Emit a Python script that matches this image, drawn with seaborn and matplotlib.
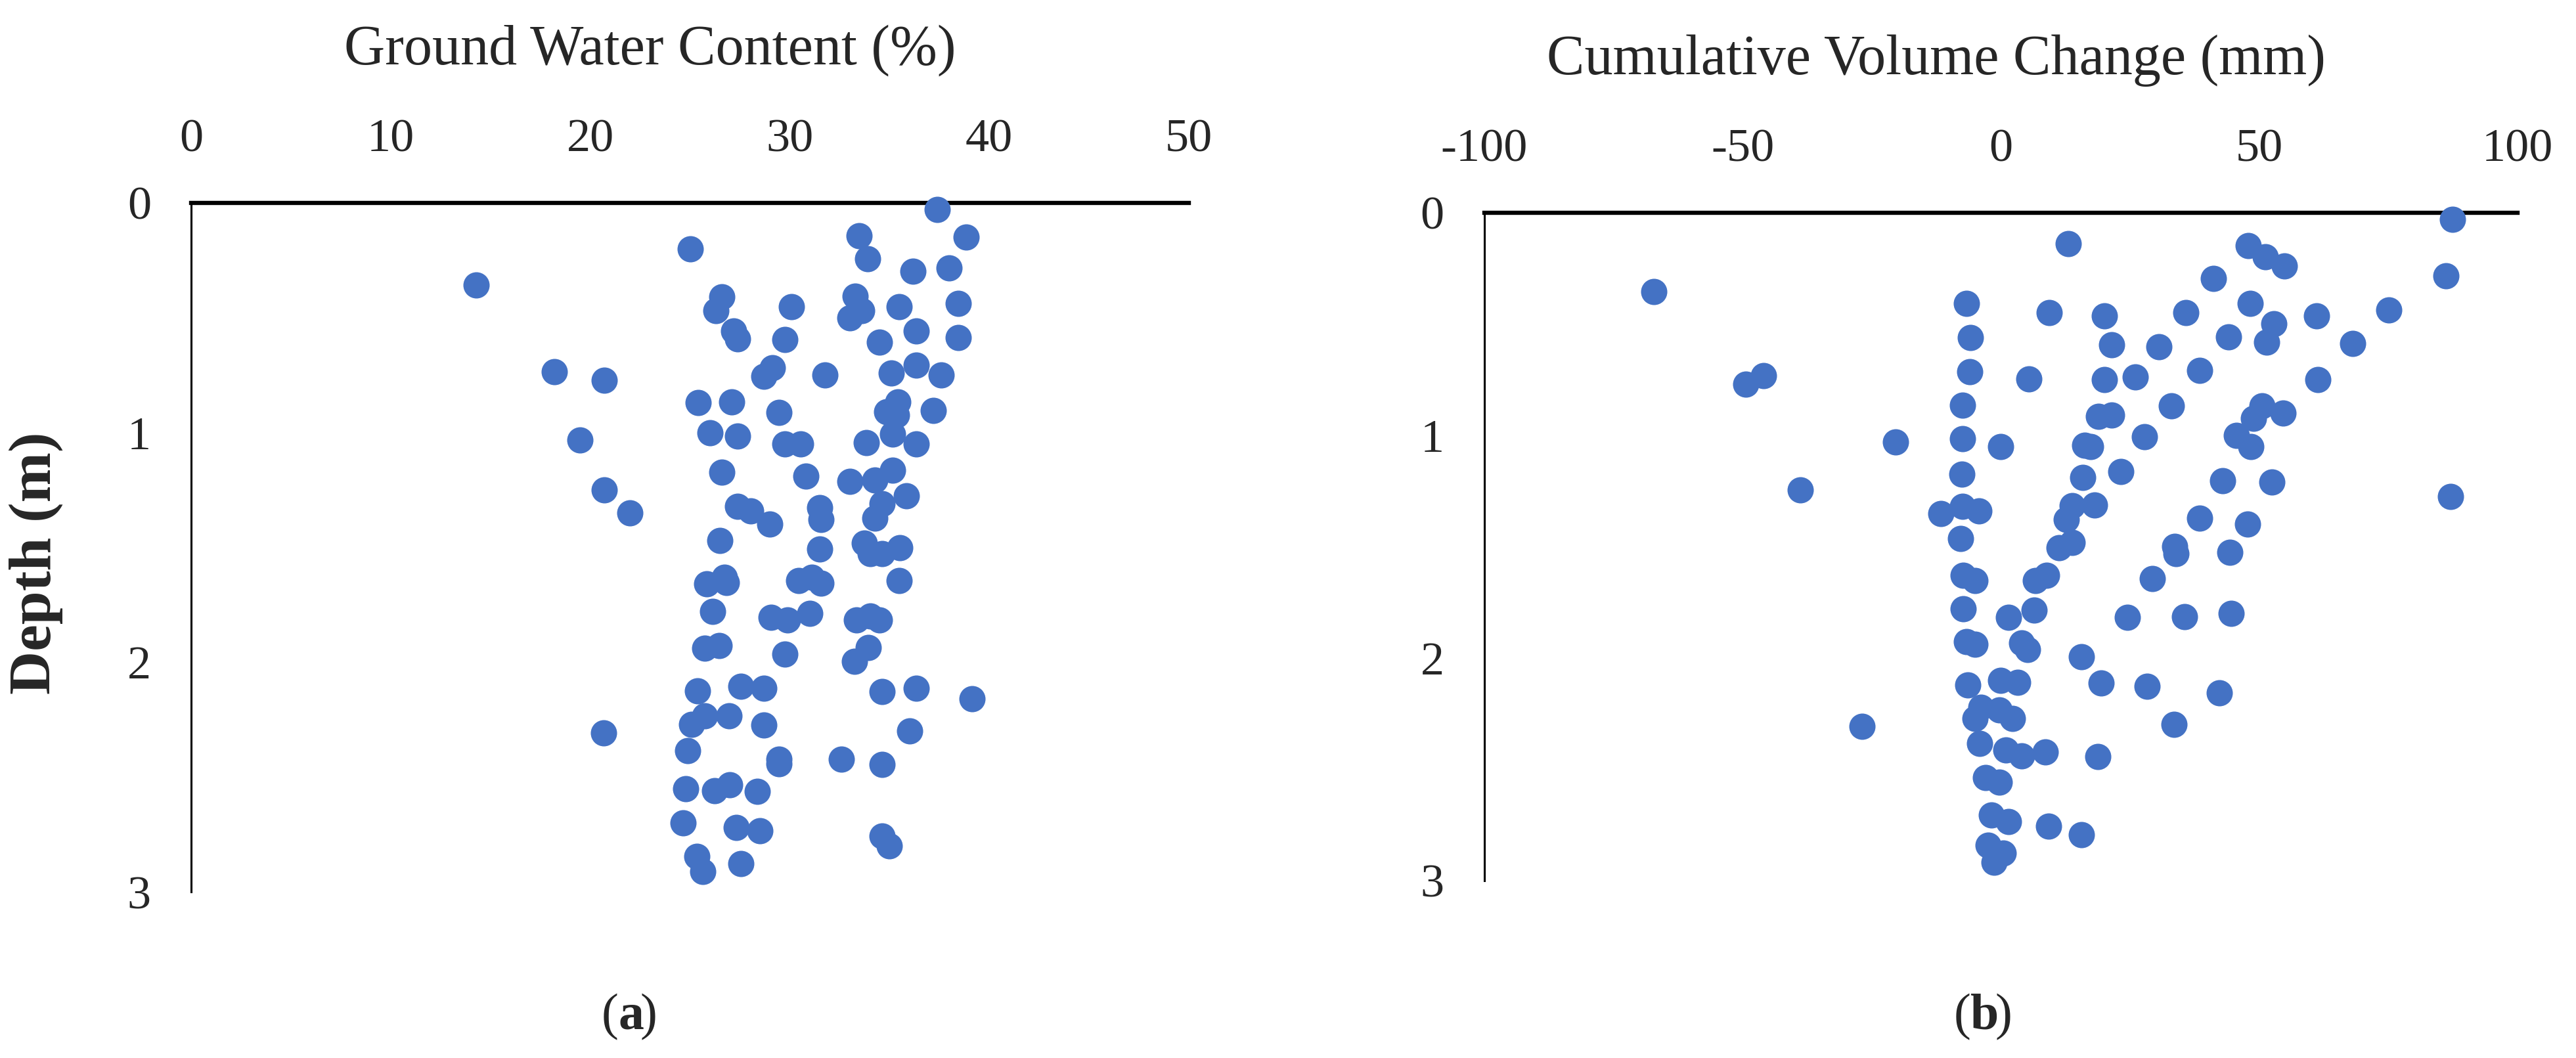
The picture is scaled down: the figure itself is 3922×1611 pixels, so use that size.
import numpy as np
import pandas as pd
import matplotlib
matplotlib.use("Agg")
import matplotlib.pyplot as plt
import seaborn as sns

# (a) ground water content (%) vs depth (m)
water_content = [
    25.0, 14.3, 26.6, 26.3, 27.2, 27.4, 18.2, 20.7, 25.4, 27.1, 26.0, 27.4, 19.5, 26.6, 27.4, 20.7, 22.0, 26.5,
    37.4, 38.85, 33.46, 33.92, 36.16, 38.0, 30.1, 33.29, 33.6, 33.02, 35.5, 38.43, 29.77, 34.48, 36.35, 38.43,
    29.14, 28.71, 31.78, 35.1, 36.35, 37.6, 29.45, 35.41, 34.85, 35.34, 37.18, 29.77, 30.54, 33.85, 35.14, 36.35,
    30.82, 33.0, 34.27, 35.15, 28.05, 29.01, 31.51, 31.58, 34.63, 34.28, 35.86,
    31.51, 33.75, 34.03, 34.63, 35.51, 30.46, 31.12, 31.58, 35.5, 29.07, 29.89, 31.01, 33.36, 34.03, 34.49,
    29.77, 33.93, 33.23, 27.55, 28.71, 34.64, 36.35, 39.15, 28.71, 36.02, 29.45, 29.45, 32.6, 34.64, 28.38,
    27.33, 28.49, 34.63, 35.0, 27.55,
    25.85, 26.73, 26.84, 26.12, 25.74, 26.48, 25.39, 25.74, 25.09, 26.97, 24.9, 20.68, 24.78, 26.24, 27.0,
    24.67, 25.36, 25.63,
]
depth_a = [
    0.20, 0.358, 0.408, 0.469, 0.557, 0.591, 0.734, 0.772, 0.869, 0.866, 1.0, 1.015, 1.032, 1.172, 1.321, 1.25, 1.35, 1.47,
    0.03, 0.149, 0.142, 0.244, 0.297, 0.282, 0.451, 0.407, 0.469, 0.501, 0.451, 0.438, 0.594, 0.606, 0.557, 0.586,
    0.717, 0.754, 0.749, 0.74, 0.705, 0.749, 0.913, 0.867, 0.908, 0.923, 0.904, 1.05, 1.05, 1.044, 1.008, 1.05,
    1.19, 1.212, 1.206, 1.165, 1.342, 1.398, 1.326, 1.378, 1.311, 1.372, 1.275,
    1.507, 1.482, 1.528, 1.528, 1.502, 1.645, 1.63, 1.655, 1.645, 1.805, 1.817, 1.788, 1.817, 1.798, 1.817,
    1.966, 1.936, 1.997, 2.105, 2.113, 2.128, 2.113, 2.16, 2.274, 2.299, 2.421, 2.443, 2.423, 2.446, 2.561,
    2.72, 2.733, 2.758, 2.799, 2.878,
    1.66, 1.63, 1.652, 1.78, 1.939, 1.928, 2.125, 2.232, 2.271, 2.234, 2.385, 2.309, 2.552, 2.559, 2.534,
    2.7, 2.845, 2.911,
]

# (b) cumulative volume change (mm) vs depth (m)
volume_change = [
    -67.14, -45.98, -49.35, -6.66, -5.88, -6.04, -7.44, -7.44, -7.6, -20.41, -0.07, 5.47, 9.36, -38.82, -11.59,
    -7.44, -4.22, -7.8,
    87.38, 13.05, 47.93, 51.24, 54.87, 41.15, 86.11, 19.99, 35.81, 48.2, 52.78, 61.04, 75.09, 21.43, 30.57,
    44.07, 51.4, 68.09, 20.05, 26.0, 38.45, 61.32, 33.0, 18.84, 21.48, 50.52, 48.92, 54.6, 16.25, 17.35, 27.76,
    45.6, 48.37, 15.81, 23.19, 42.92, 52.45, 87.05, 13.77, 18.07, 12.67, 38.45, 47.71,
    11.29, 13.77, 33.6, 33.88, 44.35, 8.81, 29.31, 24.51, 35.53, 44.57, 15.59, 19.39, 28.31, 42.31, 33.55,
    8.54, 18.78, 9.25, 15.59,
    -7.34, -5.0, 6.67, -7.34, 1.48, 6.41, -6.71, -5.0, 4.07, 5.11, -26.89, -6.4, -0.08, 3.3, -3.81, -0.33,
    -5.0, 2.26, -4.07, 0.96, 3.97, -2.93, -0.33, -1.89, 1.48, -2.41, 0.45, -1.37,
]
depth_b = [
    0.355, 0.733, 0.771, 0.408, 0.56, 0.715, 0.865, 1.014, 1.173, 1.03, 1.05, 0.746, 0.448, 1.246, 1.35,
    1.32, 1.338, 1.464,
    0.03, 0.139, 0.149, 0.197, 0.24, 0.296, 0.282, 0.464, 0.448, 0.408, 0.499, 0.464, 0.436, 0.594, 0.603,
    0.558, 0.58, 0.586, 0.75, 0.739, 0.707, 0.748, 0.866, 0.914, 0.908, 0.868, 0.924, 0.901, 1.043, 1.05, 1.005,
    0.999, 1.05, 1.188, 1.162, 1.203, 1.209, 1.273, 1.317, 1.312, 1.378, 1.371, 1.398,
    1.505, 1.48, 1.5, 1.53, 1.525, 1.627, 1.642, 1.817, 1.815, 1.8, 1.994, 2.112, 2.127, 2.155, 2.298,
    2.422, 2.442, 2.755, 2.795,
    1.627, 1.652, 1.652, 1.779, 1.817, 1.785, 1.927, 1.937, 1.932, 1.962, 2.306, 2.12, 2.1, 2.11, 2.222, 2.232,
    2.272, 2.272, 2.384, 2.414, 2.44, 2.536, 2.557, 2.704, 2.735, 2.841, 2.877, 2.917,
]

xticks_a = [0, 10, 20, 30, 40, 50]
xticks_b = [-100, -50, 0, 50, 100]
yticks = [0, 1, 2, 3]

df_a = pd.DataFrame({"water": water_content, "depth": depth_a})
df_b = pd.DataFrame({"volume": volume_change, "depth": depth_b})

sns.set_theme(style="white")
plt.rcParams["font.family"] = ["Liberation Serif", "DejaVu Serif"]
plt.rcParams["axes.unicode_minus"] = False  # plain hyphen like the original

DOT = "#4472C4"
fig = plt.figure(figsize=(39.22, 16.11), dpi=100)
ax_a = fig.add_axes([0.0742, 0.1570, 0.3873, 0.6512])
ax_b = fig.add_axes([0.5762, 0.1676, 0.4011, 0.6313])


def style_axis(ax, xlim, xticks):
    ax.set_xlim(*xlim)
    ax.set_ylim(3, 0)
    ax.set_xticks(xticks)
    ax.set_yticks(yticks)
    ax.xaxis.tick_top()
    ax.tick_params(axis="x", length=0, pad=46, labelsize=52)
    ax.tick_params(axis="y", length=0, pad=44, labelsize=52)
    for side in ["right", "bottom"]:
        ax.spines[side].set_visible(False)
    ax.spines["top"].set_linewidth(4.6)
    ax.spines["left"].set_linewidth(2.2)
    ax.spines["top"].set_color("black")
    ax.spines["left"].set_color("black")
    ax.set_xlabel("")
    ax.set_ylabel("")
    ax.grid(False)


sns.scatterplot(data=df_a, x="water", y="depth", ax=ax_a, color=DOT, s=830,
                linewidth=0, zorder=3, clip_on=False, legend=False)
sns.scatterplot(data=df_b, x="volume", y="depth", ax=ax_b, color=DOT, s=830,
                linewidth=0, zorder=3, clip_on=False, legend=False)

style_axis(ax_a, (0, 50), xticks_a)
style_axis(ax_b, (-100, 100), xticks_b)

fig.text(0.2524, 0.9398, "Ground Water Content (%)", ha="center", va="baseline", fontsize=62)
fig.text(0.7517, 0.9299, "Cumulative Volume Change (mm)", ha="center", va="baseline", fontsize=62)
fig.text(0.014, 0.468, "Depth (m)", rotation=90, ha="center", va="center",
         fontsize=66, fontweight="bold")

fig.text(0.2400, 0.0390, "(", ha="right", va="center", fontsize=56)
fig.text(0.2400, 0.0390, "a", ha="left", va="center", fontsize=56, fontweight="bold")
fig.text(0.2400 + 0.0085, 0.0390, ")", ha="left", va="center", fontsize=56)
fig.text(0.7650, 0.0390, "(", ha="right", va="center", fontsize=56)
fig.text(0.7650, 0.0390, "b", ha="left", va="center", fontsize=56, fontweight="bold")
fig.text(0.7650 + 0.0095, 0.0390, ")", ha="left", va="center", fontsize=56)

fig.savefig("out.png", dpi=100, facecolor="white")
